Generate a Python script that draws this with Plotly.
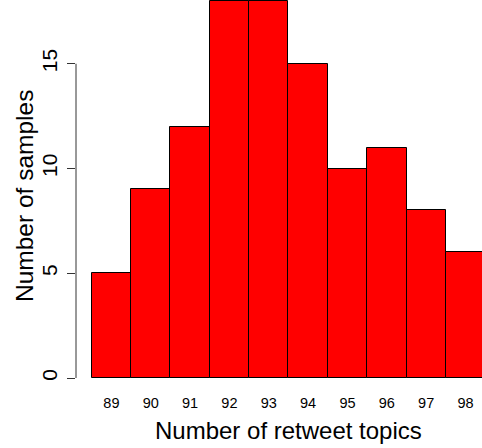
import plotly.graph_objects as go

categories = [89, 90, 91, 92, 93, 94, 95, 96, 97, 98]
counts = [5, 9, 12, 18, 18, 15, 10, 11, 8, 6]
y_ticks = [0, 5, 10, 15]
x_title = "Number of retweet topics"
y_title = "Number of samples"

W, H = 482, 448
ml, mr, mt, mb = 76, 0, 0, 68
px_per_x = 39.35
px_per_y = 20.95
plot_w = W - ml - mr
plot_h = H - mt - mb
x0 = 88.5 - 15.7 / px_per_x
x1 = x0 + plot_w / px_per_x
y1 = 378.0 / px_per_y
y0 = y1 - plot_h / px_per_y

font_family = "Liberation Sans, Arial, sans-serif"

fig = go.Figure()
fig.add_trace(go.Bar(
    x=categories, y=counts, width=1.0,
    marker=dict(color="#FF0000", line=dict(color="black", width=1)),
    hoverinfo="skip",
))

fig.add_shape(type="line", xref="paper", yref="y", x0=0, x1=0,
              y0=y_ticks[0], y1=y_ticks[-1], line=dict(color="#333333", width=1))

fig.add_annotation(text=x_title, xref="paper", yref="paper", x=(288 - ml) / plot_w,
                   y=0, yanchor="middle", yshift=-(430 - (mt + plot_h)),
                   showarrow=False, font=dict(family=font_family, size=24, color="black"))
fig.add_annotation(text=y_title, xref="paper", yref="paper", x=0, xanchor="center",
                   xshift=-(ml - 24), y=1 - (196 - mt) / plot_h, yanchor="middle",
                   textangle=-90, showarrow=False,
                   font=dict(family=font_family, size=24.5, color="black"))

fig.update_layout(
    width=W, height=H,
    margin=dict(l=ml, r=mr, t=mt, b=mb, pad=0),
    plot_bgcolor="white", paper_bgcolor="white",
    showlegend=False, bargap=0,
    font=dict(family=font_family, color="black"),
    xaxis=dict(range=[x0, x1], tickvals=categories, ticktext=[str(c) for c in categories],
               showline=False, showgrid=False, zeroline=False,
               ticks="outside", ticklen=10, tickcolor="rgba(0,0,0,0)",
               tickfont=dict(size=14.5, family=font_family, color="black")),
    yaxis=dict(range=[y0, y1], tickvals=y_ticks, ticktext=[str(v) for v in y_ticks],
               showline=False, showgrid=False, zeroline=False,
               ticks="outside", ticklen=8, tickcolor="#333333", tickwidth=1,
               tickangle=-90, ticklabelstandoff=2,
               tickfont=dict(size=21, family=font_family, color="black")),
)

fig.write_html("out.html")
